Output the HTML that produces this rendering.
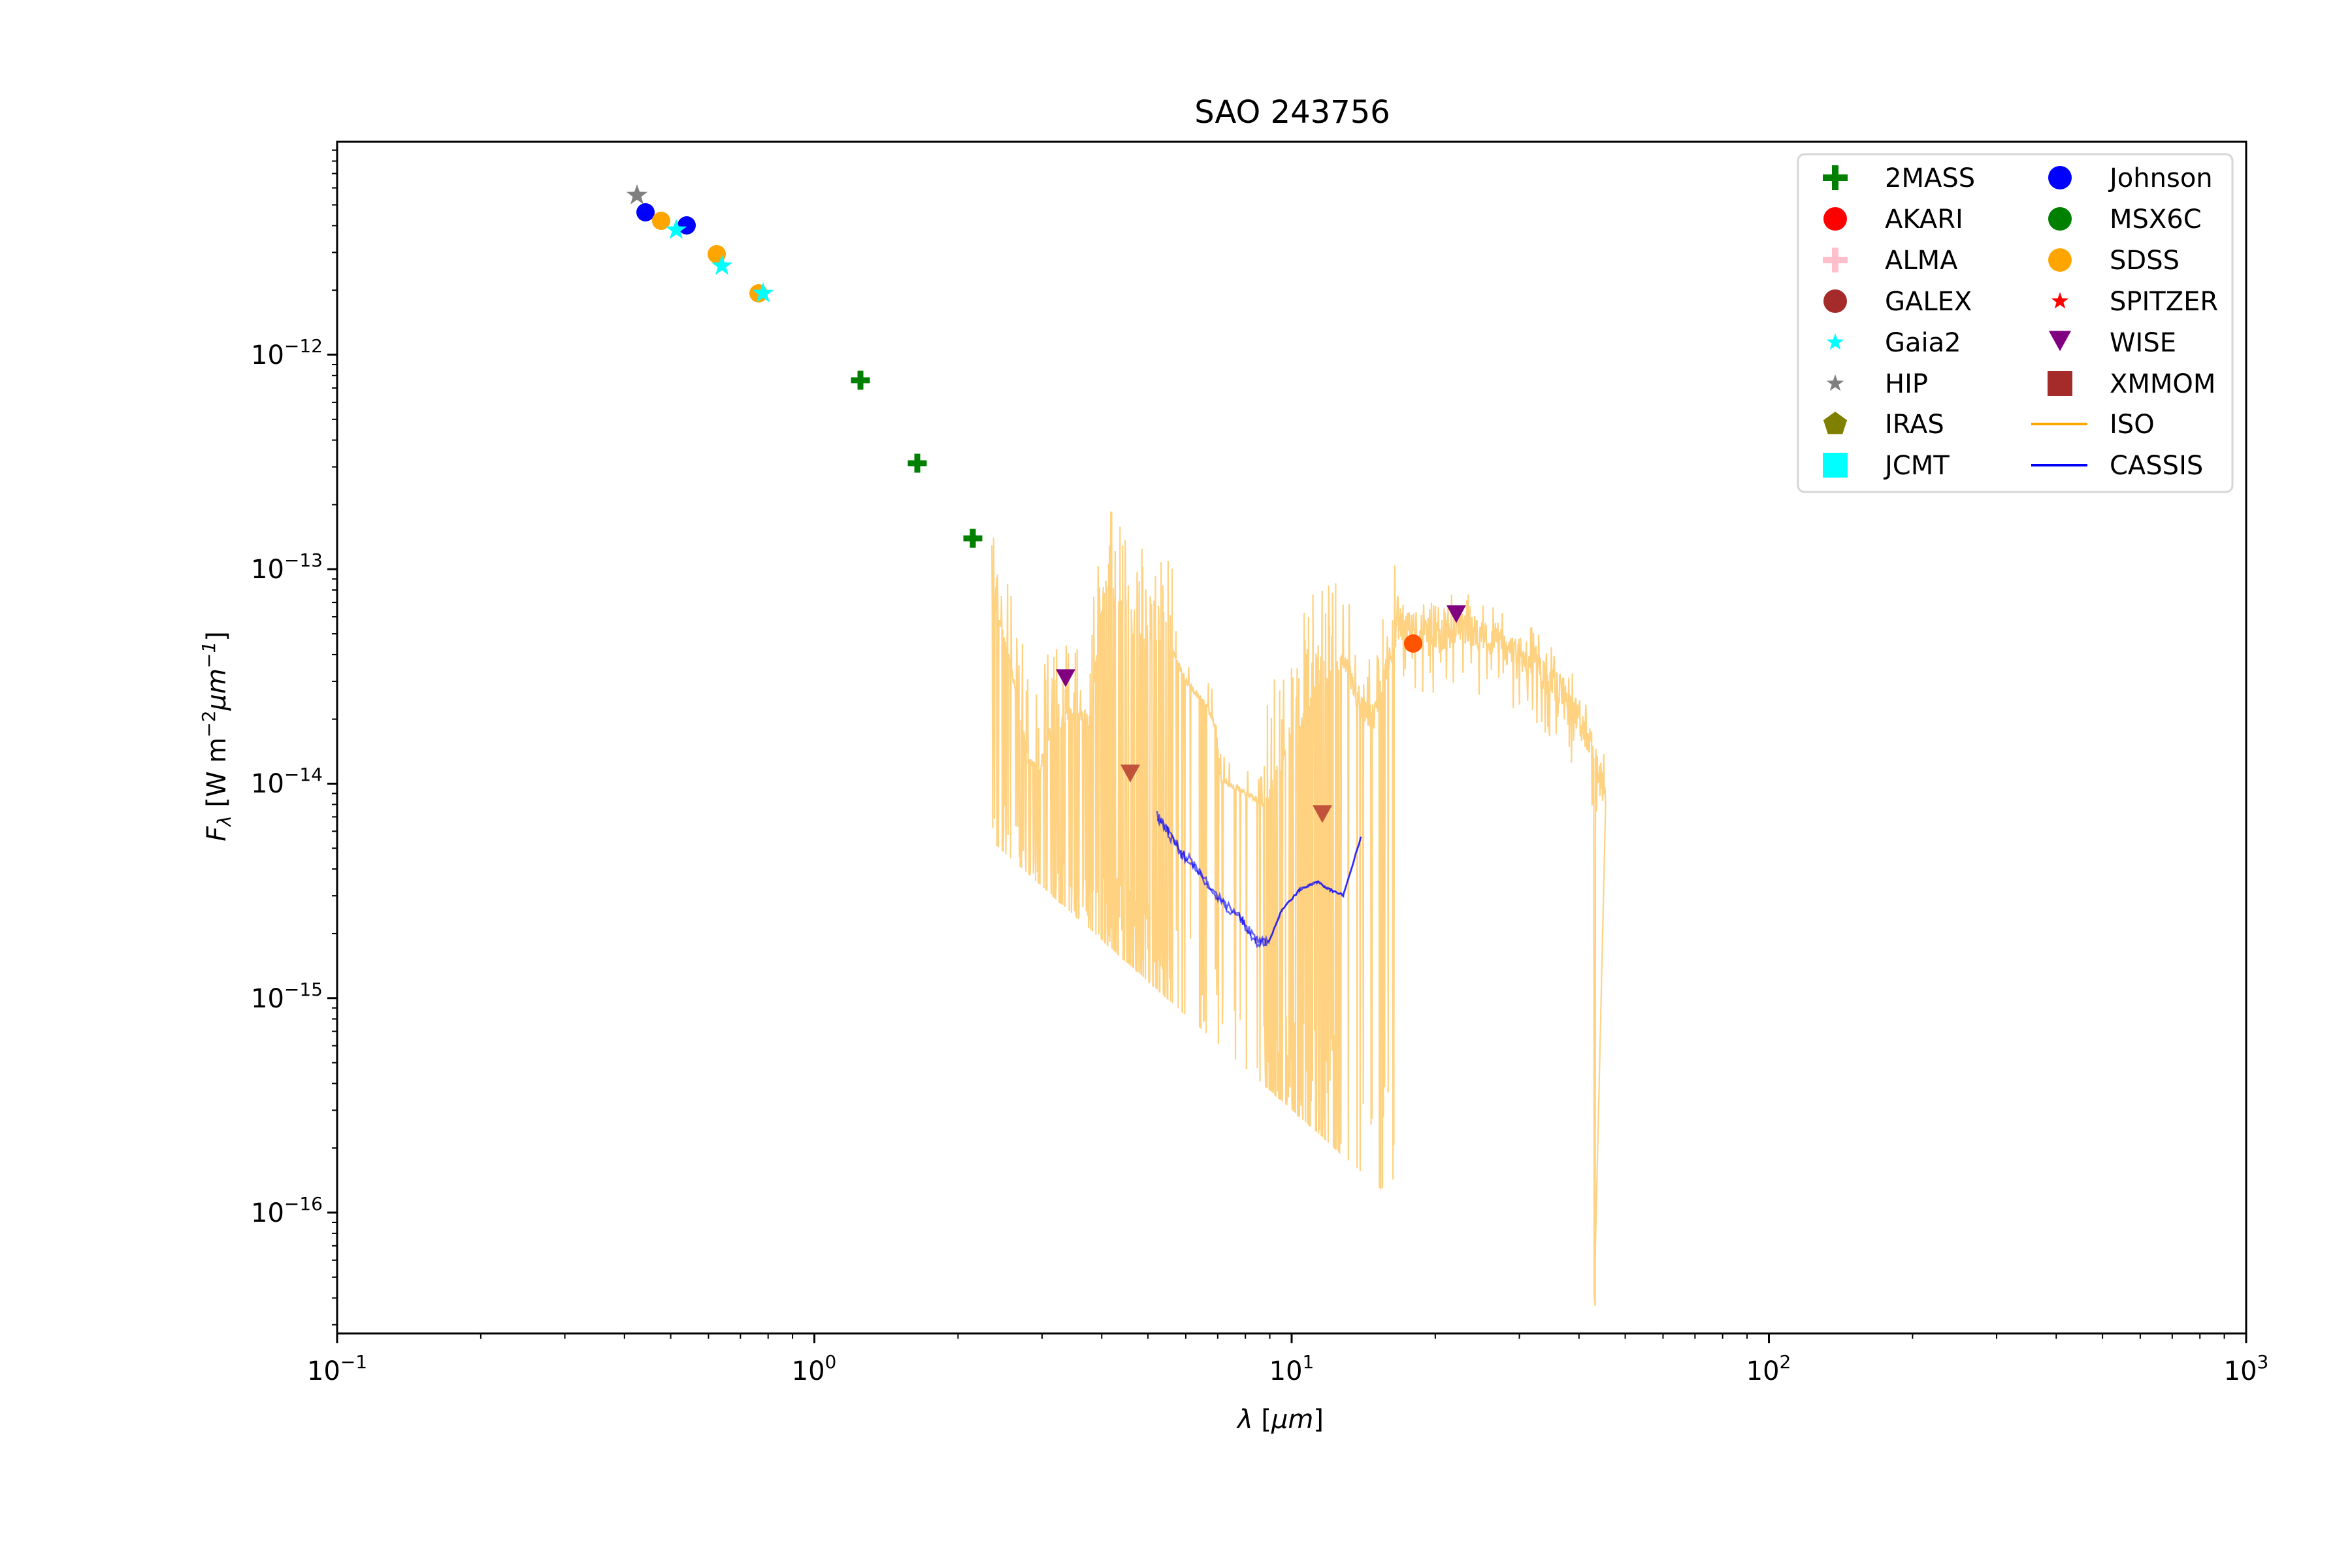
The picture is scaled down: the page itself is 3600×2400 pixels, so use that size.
<!DOCTYPE html>
<html><head><meta charset="utf-8"><style>
html,body{margin:0;padding:0;background:#fff;}
svg{display:block;}
text{font-family:"DejaVu Sans","Liberation Sans",sans-serif;fill:#000;}
</style></head><body>
<svg id="s" width="3600" height="2400" viewBox="0 0 3600 2400" xmlns="http://www.w3.org/2000/svg">
<rect width="3600" height="2400" fill="#fff"/>
<g id="spec"></g>
<g id="cas"></g>
<g id="marks"></g>
<rect x="516" y="217" width="2922" height="1824" fill="none" stroke="#000" stroke-width="3"/>
<g id="ticks" stroke="#000"></g>
<text x="1978" y="188" font-size="48" text-anchor="middle">SAO 243756</text>
<g font-size="40" text-anchor="middle">
<text x="516" y="2112">10<tspan dy="-18" font-size="28">−1</tspan></text>
<text x="1246" y="2112">10<tspan dy="-18" font-size="28">0</tspan></text>
<text x="1977" y="2112">10<tspan dy="-18" font-size="28">1</tspan></text>
<text x="2707" y="2112">10<tspan dy="-18" font-size="28">2</tspan></text>
<text x="3438" y="2112">10<tspan dy="-18" font-size="28">3</tspan></text>
</g>
<g font-size="40" text-anchor="end">
<text x="494" y="557">10<tspan dy="-18" font-size="28">−12</tspan></text>
<text x="494" y="885">10<tspan dy="-18" font-size="28">−13</tspan></text>
<text x="494" y="1213">10<tspan dy="-18" font-size="28">−14</tspan></text>
<text x="494" y="1542">10<tspan dy="-18" font-size="28">−15</tspan></text>
<text x="494" y="1870">10<tspan dy="-18" font-size="28">−16</tspan></text>
</g>
<text x="1960" y="2186" font-size="40" text-anchor="middle"><tspan font-style="italic">λ</tspan> [<tspan font-style="italic">μm</tspan>]</text>
<text transform="translate(345,1127) rotate(-90)" font-size="40" text-anchor="middle"><tspan font-style="italic">F</tspan><tspan font-style="italic" font-size="28" dy="8">λ</tspan><tspan dy="-8"> [W m</tspan><tspan font-size="28" dy="-16">−2</tspan><tspan font-style="italic" dy="16">μm</tspan><tspan font-size="28" font-style="italic" dy="-16">−1</tspan><tspan dy="16">]</tspan></text>
<g id="legend">
<rect x="2752" y="236" width="665" height="517" rx="10" fill="#fff" fill-opacity="0.8" stroke="#d6d6d6" stroke-width="3"/>
<g font-size="40">
<text x="2885" y="286">2MASS</text>
<text x="2885" y="349">AKARI</text>
<text x="2885" y="412">ALMA</text>
<text x="2885" y="475">GALEX</text>
<text x="2885" y="538">Gaia2</text>
<text x="2885" y="601">HIP</text>
<text x="2885" y="663">IRAS</text>
<text x="2885" y="726">JCMT</text>
<text x="3229" y="286">Johnson</text>
<text x="3229" y="349">MSX6C</text>
<text x="3229" y="412">SDSS</text>
<text x="3229" y="475">SPITZER</text>
<text x="3229" y="538">WISE</text>
<text x="3229" y="601">XMMOM</text>
<text x="3229" y="663">ISO</text>
<text x="3229" y="726">CASSIS</text>
</g>
<line x1="3109" y1="649" x2="3195" y2="649" stroke="#ffa500" stroke-width="4"/>
<line x1="3109" y1="712" x2="3195" y2="712" stroke="#0000ff" stroke-width="4"/>
</g>
<g id="lmarks"></g>
</svg>
<script>
(function(){
var NS="http://www.w3.org/2000/svg";
function el(tag,attrs,parent){var e=document.createElementNS(NS,tag);for(var k in attrs)e.setAttribute(k,attrs[k]);document.getElementById(parent).appendChild(e);return e;}
var X=function(l){return 516+(Math.log10(l)+1)*730.5;};
for(var d=-1;d<=3;d++){
  var x=516+(d+1)*730.5;
  el("line",{x1:x,y1:2041,x2:x,y2:2056,"stroke-width":3},"ticks");
  if(d<3)for(var m=2;m<=9;m++){var xm=X(m*Math.pow(10,d));el("line",{x1:xm,y1:2041,x2:xm,y2:2049,"stroke-width":2},"ticks");}
}
for(var e=-17;e<=-11;e++){
  var y=543+(-12-e)*328.25;
  if(y>=216&&y<=2042)el("line",{x1:501,y1:y,x2:516,y2:y,"stroke-width":3},"ticks");
  for(var m=2;m<=9;m++){var ym=543+(-12-(e+Math.log10(m)))*328.25;if(ym>=217&&ym<=2041)el("line",{x1:508,y1:ym,x2:516,y2:ym,"stroke-width":2},"ticks");}
}
var seed=12345;function rnd(){seed=(seed*1103515245+12345)%2147483648;return seed/2147483648;}
var zx=function(a){return 1500+0.6696*a;}, zy=function(b){return 700+0.797*b;};
var B=[[27,270],[60,360],[90,480],[110,580],[140,600],[150,540],[200,490],[250,500],[285,240],[330,310],[380,360],[440,370],[470,430],[520,480],[540,520],[550,620],[600,640],[650,670],[700,560],[750,470],[800,420],[830,390],[870,480],[900,500],[930,400],[960,320],[1000,330],[1050,345],[1100,320],[1150,345],[1200,370],[1250,385],[1300,420],[1350,470],[1400,560],[1430,650]];
function base(a){for(var i=0;i<B.length-1;i++){if(a<=B[i+1][0]){var t=(a-B[i][0])/(B[i+1][0]-B[i][0]);return B[i][1]+t*(B[i+1][1]-B[i][1]);}}return B[B.length-1][1];}
function L(a){return 740+(a-30)*0.7516;}
var pts=[];
for(var a=27;a<=1430;a+=1.0){
  var b=base(a),pd,pu,nz,uh;
  if(a<145){pd=0.3;pu=0.15;nz=10;uh=160;}
  else if(a<285){pd=0.4;pu=0.2;nz=15;uh=160;}
  else if(a<440){pd=0.6;pu=0.25;nz=15;uh=180;}
  else if(a<650){pd=0.12;pu=0.05;nz=6;uh=60;}
  else if(a<830){pd=0.5;pu=0.2;nz=15;uh=200;}
  else if(a<950){pd=0.1;pu=0.2;nz=25;uh=150;}
  else {pd=0.0;pu=0.15;nz=32;uh=70;}
  var v=b+(rnd()-0.5)*2*nz;
  var r=rnd();
  if(r<pd){var f=rnd();f=f<0.5?1:0.5+f*0.5;v=b+(L(a)-b)*f;}
  else if(r<pd+pu){v=b-rnd()*uh;}
  else if(a>=950&&r<0.3){v=b+rnd()*120;}
  if(Math.abs(a-1405)<2)v=1600+(a-1403)*10;
  pts.push(zx(a).toFixed(1)+","+zy(v).toFixed(1));
}
pts.push(zx(1405)+","+"1960");
el("polyline",{points:pts.join(" "),fill:"none",stroke:"#ffd282","stroke-width":2.2},"spec");
var C=[[1771,1248],[1788,1274],[1808,1306],[1828,1322],[1848,1354],[1875,1385],[1902,1409],[1922,1441],[1942,1441],[1962,1393],[1989,1362],[2016,1350],[2036,1362],[2056,1370],[2083,1282]];
for(var k=0;k<2;k++){
  var cp=[];
  for(var i=0;i<C.length-1;i++){
    for(var t=0;t<1;t+=0.1){
      var x=C[i][0]+t*(C[i+1][0]-C[i][0]),y=C[i][1]+t*(C[i+1][1]-C[i][1]);
      var j=(x<1940)?16:4;
      cp.push(x.toFixed(1)+","+(y+(rnd()-0.5)*j).toFixed(1));
    }
  }
  cp.push("2083,1282");
  el("polyline",{points:cp.join(" "),fill:"none",stroke:"#0000ff","stroke-opacity":0.6,"stroke-width":2.5},"cas");
}
function star(cx,cy,R,col,g){var p=[];for(var i=0;i<10;i++){var r=i%2?R*0.4:R;var ang=-Math.PI/2+i*Math.PI/5;p.push((cx+r*Math.cos(ang)).toFixed(1)+","+(cy+r*Math.sin(ang)).toFixed(1));}el("polygon",{points:p.join(" "),fill:col},g);}
function plus(cx,cy,w,t,col,g){el("rect",{x:cx-w/2,y:cy-t/2,width:w,height:t,fill:col},g);el("rect",{x:cx-t/2,y:cy-w/2,width:t,height:w,fill:col},g);}
function circ(cx,cy,r,col,g,op){el("circle",{cx:cx,cy:cy,r:r,fill:col,"fill-opacity":op||1},g);}
function tri(cx,cy,w,col,g){el("polygon",{points:(cx-w/2)+","+(cy-w/2.2)+" "+(cx+w/2)+","+(cy-w/2.2)+" "+cx+","+(cy+w/2.2),fill:col},g);}
function pent(cx,cy,R,col,g){var p=[];for(var i=0;i<5;i++){var ang=-Math.PI/2+i*2*Math.PI/5;p.push((cx+R*Math.cos(ang)).toFixed(1)+","+(cy+R*Math.sin(ang)).toFixed(1));}el("polygon",{points:p.join(" "),fill:col},g);}
tri(1631,1038,30,"#800080","marks");tri(2229,940,30,"#800080","marks");
tri(1730,1184,30,"#c0533a","marks");tri(2024,1246,30,"#c0533a","marks");
circ(2163,985,14,"#ff0000","marks");circ(2163,985,14,"#ffa500","marks",0.5);
star(975,299,17,"#808080","marks");
circ(988,325,14,"#0000ff","marks");circ(1051,345,14,"#0000ff","marks");
circ(1012,338,14,"#ffa500","marks");circ(1097,389,14,"#ffa500","marks");circ(1161,449,14,"#ffa500","marks");
star(1035,352,17,"#00ffff","marks");star(1105,407,17,"#00ffff","marks");star(1168,449,17,"#00ffff","marks");
plus(1317,582,29,9,"#008000","marks");plus(1404,709,29,9,"#008000","marks");plus(1489,824,29,9,"#008000","marks");
var g="lmarks";
plus(2809,272,38,10,"#008000",g);
circ(2809,335,18,"#ff0000",g);
plus(2809,398,38,10,"#ffc0cb",g);
circ(2809,461,18,"#a52a2a",g);
star(2809,524,14,"#00ffff",g);
star(2809,587,14,"#808080",g);
pent(2809,649,19,"#808000",g);
el("rect",{x:2790,y:693,width:38,height:38,fill:"#00ffff"},g);
circ(3153,272,18,"#0000ff",g);
circ(3153,335,18,"#008000",g);
circ(3153,398,18,"#ffa500",g);
star(3153,461,14,"#ff0000",g);
tri(3153,522,34,"#800080",g);
el("rect",{x:3134,y:568,width:38,height:38,fill:"#a52a2a"},g);
})();
</script>
</body></html>
